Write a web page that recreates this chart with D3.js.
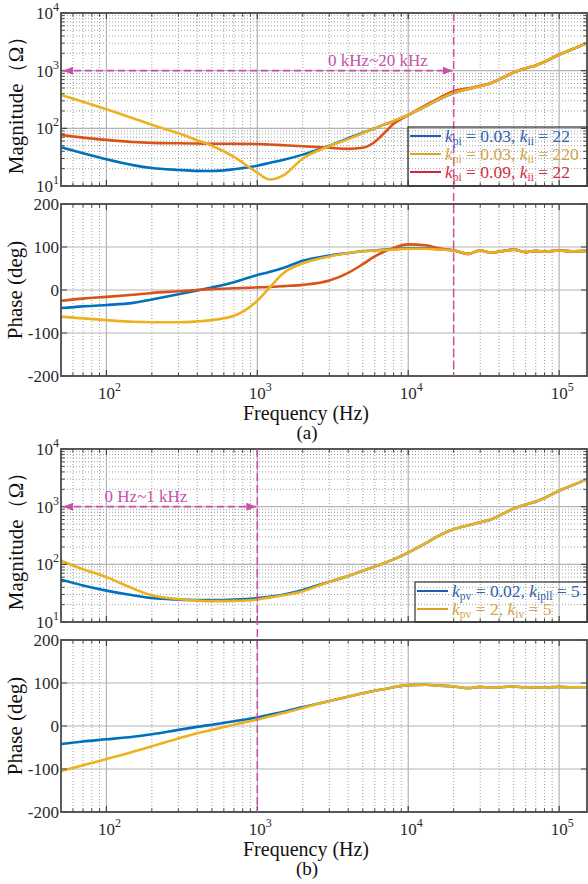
<!DOCTYPE html>
<html><head><meta charset="utf-8">
<script src="https://cdn.jsdelivr.net/npm/d3@7"></script>
<style>body{margin:0;background:#fff}svg{display:block}text{font-family:"Liberation Serif","Times New Roman","DejaVu Serif",serif}</style>
</head><body><svg id="c" width="588" height="884" font-family="Liberation Serif, DejaVu Serif, serif"></svg>
<script>
const freqs=[50,70,100,150,200,300,400,500,700,1000,1200,1500,2000,3000,4000,5000,6000,7000,8000,10000,13000,16000,20000,25000,30000,35000,40000,50000,60000,70000,80000,100000,120000,150000];
// panel (a) magnitude (ohm)
const magA_blue=[47,37,29,23,20.5,19,18.3,18.2,19.5,22.5,25,28.5,35,50,67,84,100,117,133,170,240,320,410,480,540,600,700,930,1100,1230,1420,1900,2300,2950];
const magA_yellow=[380,290,215,150,115,82,62,50,32,17,13,15.5,30,49,65,82,100,117,134,171,240,320,412,480,540,600,700,930,1100,1230,1420,1900,2300,2950];
const magA_red=[77,69,63,58,56,55,54.5,54,54,53.5,52.5,51,49,46,44,46,58,85,120,170,250,335,440,495,545,605,705,935,1105,1235,1425,1905,2305,2950];
// panel (a) phase (deg)
const phA_blue=[-42,-38,-35,-30,-22,-10,-1,6,18,35,42,52,68,80,86,90,92,94,95,97,97,95,92,84,92,87,89,94,88,91,89,92,90,91];
const phA_yellow=[-62,-66,-70,-74,-75,-75,-73,-70,-60,-25,5,40,62,78,86,90,92,93,94,96,96,94,92,84,92,87,89,94,88,91,89,92,90,91];
const phA_red=[-25,-20,-16,-11,-7,-3,0,2,4,6,7,9,12,22,40,60,78,90,98,106,104,97,92,84,92,87,89,94,88,91,89,92,90,91];
// panel (b) magnitude (ohm)
const magB_blue=[54,43,35,29,26,24.5,24,24,24.5,26,27.5,30,36,50,63,77,92,106,122,160,230,315,405,475,535,595,695,925,1095,1225,1415,1890,2290,2940];
const magB_yellow=[115,82,60,38,29,25,23.5,23,23.2,24.5,26.5,29,34,50,63,77,92,106,122,160,230,315,405,475,535,595,695,925,1095,1225,1415,1890,2290,2940];
// panel (b) phase (deg)
const phB_blue=[-42,-36,-31,-25,-19,-9,-2,3,11,20,26,33,44,58,68,76,82,86,90,95,96,94,92,88,91,89,90,92,89,90,89,91,90,90];
const phB_yellow=[-105,-91,-77,-60,-47,-29,-17,-9,3,15,22,30,42,58,68,76,82,86,90,95,96,94,92,88,91,89,90,92,89,90,89,91,90,90];
const magTicks=[10,100,1000,10000];
const phaseTicks=[-200,-100,0,100,200];
const freqTicks=[100,1000,10000,100000];
const legendA=[["pi","0.03","ii","22"],["pi","0.03","ii","220"],["pi","0.09","ii","22"]];
const legendB=[["pv","0.02","ipll","5"],["pv","2","iv","5"]];
const rangeA="0 kHz~20 kHz", rangeB="0 Hz~1 kHz";
const markA=20000, markB=1000;

const C={blue:"#0072BD",yellow:"#EDB120",red:"#D95319",mag:"#c850a8"};
const svg=d3.select("#c");
const x=d3.scaleLog().domain([50,153000]).range([61,587]);
const L=61,R=587;
const defs=svg.append("defs");
["l","r"].forEach(d=>{
  defs.append("marker").attr("id","arr"+d).attr("viewBox","0 0 10 10").attr("refX",d=="r"?10:0).attr("refY",5)
   .attr("markerWidth",10).attr("markerHeight",10).attr("markerUnits","userSpaceOnUse").attr("orient","auto")
   .append("path").attr("d",d=="r"?"M0,1L10,5L0,9Z":"M10,1L0,5L10,9Z").attr("fill",C.mag);
});
let cid=0;
function minorLog(lo,hi){const a=[];for(let e=Math.floor(Math.log10(lo));e<=Math.ceil(Math.log10(hi));e++){for(let k=2;k<=9;k++){const v=k*Math.pow(10,e);if(v>lo&&v<hi)a.push(v);}}return a;}
function panel(top,bot,isMag,series){
  const y=isMag?d3.scaleLog().domain([10,10000]).range([bot,top]):d3.scaleLinear().domain([-200,200]).range([bot,top]);
  const g=svg.append("g");
  const fx=minorLog(50,153000);
  g.selectAll(null).data(fx).enter().append("line").attr("x1",d=>x(d)).attr("x2",d=>x(d)).attr("y1",top).attr("y2",bot)
   .attr("stroke","#8a8a8a").attr("stroke-width",0.8).attr("stroke-dasharray","1,2");
  if(isMag){
    const fy=minorLog(10,10000);
    g.selectAll(null).data(fy).enter().append("line").attr("y1",d=>y(d)).attr("y2",d=>y(d)).attr("x1",L).attr("x2",R)
     .attr("stroke","#8a8a8a").attr("stroke-width",0.8).attr("stroke-dasharray","1,2");
  }
  g.selectAll(null).data(freqTicks).enter().append("line").attr("x1",d=>x(d)).attr("x2",d=>x(d)).attr("y1",top).attr("y2",bot)
   .attr("stroke","#b4b4b4").attr("stroke-width",1.2);
  const yt=isMag?magTicks:phaseTicks;
  g.selectAll(null).data(yt).enter().append("line").attr("y1",d=>y(d)).attr("y2",d=>y(d)).attr("x1",L).attr("x2",R)
   .attr("stroke","#b4b4b4").attr("stroke-width",1.2);
  const cp="clip"+(cid++);
  defs.append("clipPath").attr("id",cp).append("rect").attr("x",L).attr("y",top).attr("width",R-L).attr("height",bot-top);
  const line=d3.line().x((d,i)=>x(freqs[i])).y(d=>y(d)).curve(d3.curveMonotoneX);
  series.forEach(s=>{
    g.append("path").attr("d",line(s.v)).attr("fill","none").attr("stroke",s.c).attr("stroke-width",2.6).attr("clip-path","url(#"+cp+")");
  });
  g.selectAll(null).data(freqTicks).enter().append("path").attr("d",d=>`M${x(d)},${bot}v-6M${x(d)},${top}v6`).attr("stroke","#444").attr("stroke-width",1.2);
  g.selectAll(null).data(fx).enter().append("path").attr("d",d=>`M${x(d)},${bot}v-3.5M${x(d)},${top}v3.5`).attr("stroke","#444").attr("stroke-width",1);
  g.selectAll(null).data(yt).enter().append("path").attr("d",d=>`M${L},${y(d)}h6M${R},${y(d)}h-6`).attr("stroke","#444").attr("stroke-width",1.2);
  if(isMag){
    g.selectAll(null).data(minorLog(10,10000)).enter().append("path").attr("d",d=>`M${L},${y(d)}h3.5M${R},${y(d)}h-3.5`).attr("stroke","#444").attr("stroke-width",1);
  }
  g.append("rect").attr("x",L).attr("y",top).attr("width",R-L).attr("height",bot-top).attr("fill","none").attr("stroke","#4a4a4a").attr("stroke-width",1.8);
  if(isMag){
    yt.forEach(v=>{
      const t=g.append("text").attr("x",59).attr("y",y(v)+6).attr("text-anchor","end").attr("font-size",17).attr("fill","#2a2a2a");
      t.append("tspan").text("10");
      t.append("tspan").attr("dy",-8).attr("font-size",12).text(Math.round(Math.log10(v)));
    });
  } else {
    yt.forEach(v=>{
      g.append("text").attr("x",59).attr("y",y(v)+6).attr("text-anchor","end").attr("font-size",17).attr("fill","#2a2a2a").text(v);
    });
  }
  return y;
}
function xLabels(bot,cap){
  freqTicks.forEach(v=>{
    const t=svg.append("text").attr("x",x(v)+3).attr("y",bot+23).attr("text-anchor","middle").attr("font-size",17).attr("fill","#2a2a2a");
    t.append("tspan").text("10");
    t.append("tspan").attr("dy",-8).attr("font-size",12).text(Math.round(Math.log10(v)));
  });
  svg.append("text").attr("x",306).attr("y",bot+44).attr("text-anchor","middle").attr("font-size",20).attr("fill","#111").text("Frequency  (Hz)");
  svg.append("text").attr("x",307).attr("y",bot+63).attr("text-anchor","middle").attr("font-size",19).attr("fill","#111").text(cap);
}
function yLabel(cx,cy,txt){
  svg.append("text").attr("transform",`translate(${cx},${cy}) rotate(-90)`).attr("text-anchor","middle").attr("font-size",21).attr("fill","#111").text(txt);
}
function legend(x0,y0,w,h,items,cols,tcols){
  svg.append("rect").attr("x",x0).attr("y",y0).attr("width",w).attr("height",h).attr("fill","none").attr("stroke","#333").attr("stroke-width",1.2);
  items.forEach((it,i)=>{
    const yy=y0+9+i*18;
    svg.append("line").attr("x1",x0+2).attr("x2",x0+33).attr("y1",yy).attr("y2",yy).attr("stroke",cols[i]).attr("stroke-width",2);
    const t=svg.append("text").attr("x",x0+37).attr("y",yy+6).attr("font-size",17.5).attr("fill",tcols[i]);
    t.append("tspan").attr("font-style","italic").text("k");
    t.append("tspan").attr("font-size",11.5).attr("dy",3).text(it[0]);
    t.append("tspan").attr("dy",-3).text(" = "+it[1]+", ");
    t.append("tspan").attr("font-style","italic").text("k");
    t.append("tspan").attr("font-size",11.5).attr("dy",3).text(it[2]);
    t.append("tspan").attr("dy",-3).text(" = "+it[3]);
  });
}
function marker(f,topY,botY,yArrow,label,lx){
  svg.append("line").attr("x1",x(f)).attr("x2",x(f)).attr("y1",topY).attr("y2",botY).attr("stroke",C.mag).attr("stroke-width",1.5).attr("stroke-dasharray","8,4");
  svg.append("line").attr("x1",63).attr("x2",x(f)-1).attr("y1",yArrow).attr("y2",yArrow).attr("stroke",C.mag).attr("stroke-width",1.6).attr("stroke-dasharray","7,4")
   .attr("marker-start","url(#arrl)").attr("marker-end","url(#arrr)");
  svg.append("text").attr("x",lx).attr("y",yArrow-5).attr("text-anchor","middle").attr("font-size",17).attr("fill",C.mag).text(label);
}
const yMA=panel(13,186,true,[{v:magA_blue,c:C.blue},{v:magA_red,c:C.red},{v:magA_yellow,c:C.yellow}]);
const yPA=panel(204,376,false,[{v:phA_blue,c:C.blue},{v:phA_red,c:C.red},{v:phA_yellow,c:C.yellow}]);
xLabels(376,"(a)");
yLabel(23,100,"Magnitude（Ω）");
yLabel(22,290,"Phase (deg)");
marker(markA,13,376,yMA(1000),rangeA,378);
legend(408,127,180,59,legendA,["#1f5fb0","#d9a42c","#d3253a"],["#2f62b0","#d4a548","#d0303e"]);
const yMB=panel(449,622,true,[{v:magB_blue,c:C.blue},{v:magB_yellow,c:C.yellow}]);
const yPB=panel(640,812,false,[{v:phB_blue,c:C.blue},{v:phB_yellow,c:C.yellow}]);
xLabels(812,"(b)");
yLabel(23,536,"Magnitude（Ω）");
yLabel(22,726,"Phase (deg)");
marker(markB,449,812,yMB(1000),rangeB,146);
legend(415,582,173,40,legendB,["#1f5fb0","#d9a42c"],["#2f62b0","#d4a548"]);
</script></body></html>
